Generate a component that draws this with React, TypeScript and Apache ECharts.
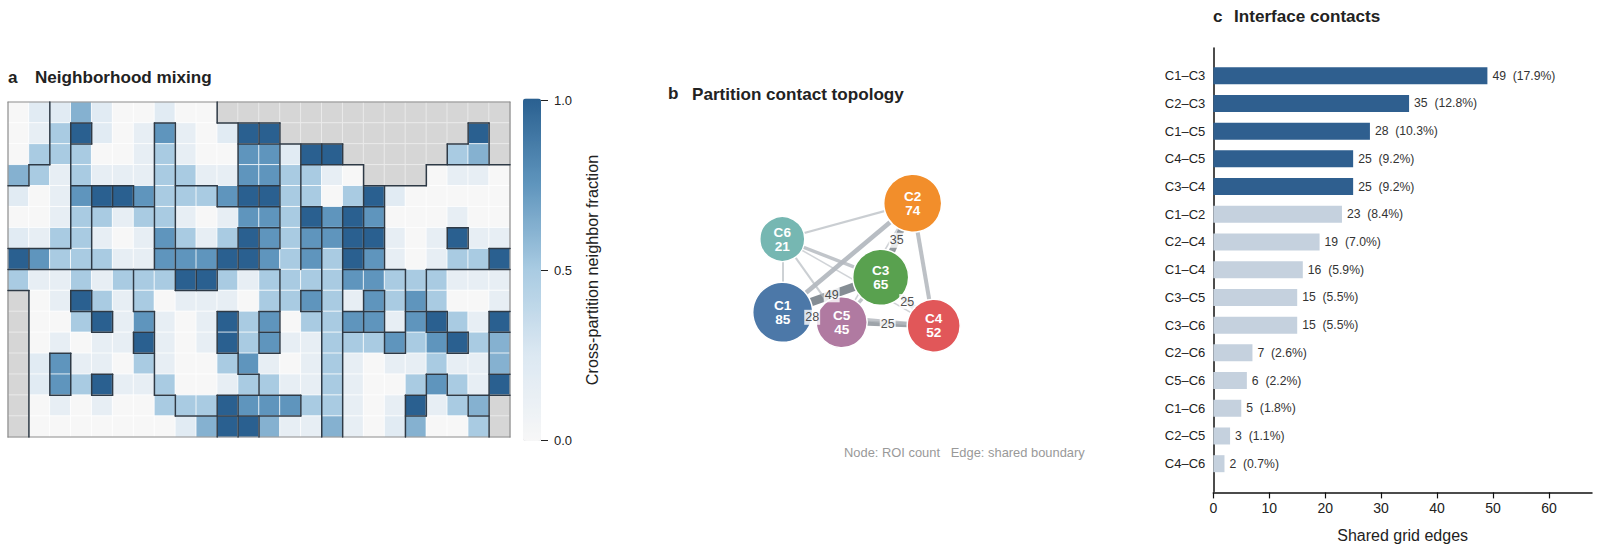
import React, { useEffect, useRef } from "react";
import * as echarts from "echarts";

const FONT = "'Liberation Sans', Arial, sans-serif";
const N = null;

// neighbour fraction per grid cell, null = outside the region
const row00 = [0, .2, .2, .62, .2, 0, 0, .2, 0, 0, N, N, N, N, N, N, N, N, N, N, N, N, N, N];
const row01 = [0, .15, .5, 1, .2, 0, .15, .75, .15, 0, .2, 1, 1, N, N, N, N, N, N, N, N, N, 1, N];
const row02 = [0, .5, .5, .5, 0, 0, .15, .5, .15, 0, 0, .75, .75, .2, 1, 1, N, N, N, N, N, .5, .62, N];
const row03 = [.62, .5, .15, .5, .15, .15, .15, .5, .5, .15, .15, .75, .75, .5, .5, .15, 0, N, N, N, 0, .15, .15, 0];
const row04 = [.2, 0, .15, .75, 1, 1, .75, .5, .5, .5, .75, 1, 1, .5, .5, 0, .5, 1, .2, 0, 0, 0, 0, 0];
const row05 = [0, 0, .15, .5, .5, .15, .5, .5, .15, 0, .15, .75, .75, .5, 1, .75, 1, .75, 0, 0, 0, .15, 0, 0];
const row06 = [.2, .15, .5, .5, .15, 0, .15, .75, .5, .15, .5, 1, .75, .5, .75, .75, 1, 1, .15, 0, .15, 1, .15, .15];
const row07 = [1, .75, .5, .5, .5, .15, .15, .75, .75, .75, 1, 1, .75, .5, .75, .5, 1, .75, .15, 0, .15, .5, .5, 1];
const row08 = [.5, .15, .15, .5, .15, .5, .5, .5, 1, 1, .5, .15, .5, .5, .5, .5, .75, .75, .5, .5, .5, .15, .15, .15];
const row09 = [N, 0, .15, 1, .5, .15, .5, 0, .15, .15, .15, 0, .5, .5, .75, .5, .15, .75, .5, .75, .5, 0, 0, .15];
const row10 = [N, 0, 0, .5, 1, .15, .75, .15, 0, .15, 1, .5, .75, 0, .5, .5, .75, .75, .15, .75, 1, .5, .15, 1];
const row11 = [N, 0, .15, 0, .15, .15, 1, .15, 0, .15, 1, .5, .75, .15, .15, .5, .5, .5, .75, .5, .75, 1, .5, .62];
const row12 = [N, .2, .75, .15, .15, 0, .5, .15, 0, 0, .5, .75, .15, 0, .15, .5, .15, 0, .15, .15, .5, .15, .15, .62];
const row13 = [N, .2, .75, .5, 1, .15, .15, .5, 0, 0, .15, .5, .5, .15, .15, .5, .15, 0, 0, .5, .75, .5, .15, 1];
const row14 = [N, 0, .15, 0, .15, 0, 0, .5, .5, .5, 1, .75, .75, .75, .5, .5, .15, 0, .15, 1, .15, .5, .62, N];
const row15 = [N, 0, 0, 0, 0, 0, 0, 0, .2, .62, 1, 1, .62, .15, .15, .62, .15, 0, .2, .62, 0, 0, .5, N];
const gridRows = [row00, row01, row02, row03, row04, row05, row06, row07, row08, row09, row10, row11, row12, row13, row14, row15];

// partition boundaries: [row line, first col, last col]
const boundaryH = [
  [1, 3, 4], [1, 7, 8], [1, 10, 13], [1, 22, 23],
  [2, 3, 4], [2, 11, 16], [2, 21, 22],
  [3, 1, 2], [3, 14, 17], [3, 20, 24],
  [4, 0, 1], [4, 3, 6], [4, 8, 10], [4, 11, 13], [4, 17, 20],
  [5, 4, 7], [5, 10, 13], [5, 14, 15], [5, 16, 18],
  [6, 11, 13], [6, 14, 18], [6, 21, 22],
  [7, 0, 3], [7, 7, 13], [7, 14, 15], [7, 16, 18], [7, 21, 22], [7, 23, 24],
  [8, 0, 13], [8, 16, 19], [8, 20, 24],
  [9, 0, 1], [9, 3, 4], [9, 8, 10], [9, 14, 15], [9, 17, 18],
  [10, 3, 5], [10, 6, 7], [10, 10, 11], [10, 12, 13], [10, 14, 15], [10, 16, 18], [10, 19, 21], [10, 23, 24],
  [11, 4, 5], [11, 6, 7], [11, 12, 13], [11, 16, 19], [11, 20, 22], [11, 23, 24],
  [12, 2, 3], [12, 6, 7], [12, 10, 11], [12, 12, 13], [12, 18, 19], [12, 21, 22],
  [13, 4, 5], [13, 11, 12], [13, 20, 21], [13, 23, 24],
  [14, 2, 3], [14, 4, 5], [14, 7, 8], [14, 10, 14], [14, 19, 20], [14, 21, 23], [14, 23, 24],
  [15, 8, 14], [15, 19, 20], [15, 22, 23],
];
// partition boundaries: [col line, first row, last row]
const boundaryV = [
  [1, 3, 4], [1, 7, 8], [1, 9, 16],
  [2, 0, 3], [2, 12, 14],
  [3, 1, 7], [3, 9, 10], [3, 12, 14],
  [4, 1, 2], [4, 4, 8], [4, 9, 11], [4, 13, 14],
  [5, 4, 5], [5, 10, 11], [5, 13, 14],
  [6, 4, 5], [6, 8, 10], [6, 11, 12],
  [7, 1, 8], [7, 10, 14],
  [8, 1, 9], [8, 14, 15],
  [9, 8, 9],
  [10, 0, 1], [10, 4, 5], [10, 7, 9], [10, 10, 12], [10, 14, 16],
  [11, 1, 5], [11, 6, 8], [11, 10, 12], [11, 12, 13], [11, 14, 16],
  [12, 1, 2], [12, 4, 5], [12, 6, 8], [12, 10, 12], [12, 13, 14], [12, 15, 16],
  [13, 1, 7], [13, 8, 12],
  [14, 2, 8], [14, 9, 10], [14, 14, 15],
  [15, 2, 3], [15, 5, 16],
  [16, 2, 3], [16, 5, 16],
  [17, 3, 8], [17, 9, 11],
  [18, 4, 8], [18, 9, 12],
  [19, 8, 12], [19, 14, 16],
  [20, 3, 4], [20, 8, 11], [20, 13, 15],
  [21, 2, 3], [21, 6, 7], [21, 10, 12], [21, 13, 14],
  [22, 1, 2], [22, 6, 7], [22, 11, 12], [22, 14, 15],
  [23, 1, 3], [23, 7, 8], [23, 10, 16],
];

const nodeNames = ["C1", "C2", "C3", "C4", "C5", "C6"];
const nodeCounts = [85, 74, 65, 52, 45, 21];
const nodeColors = ["#4c78a8", "#f28e2b", "#59a14f", "#e15759", "#b07aa1", "#76b7b2"];
const nodeX = [782.7, 912.7, 880.7, 933.7, 841.7, 782.3];
const nodeY = [312.3, 203.3, 277.3, 325.7, 322.3, 239];
const nodeSizes = [60, 58, 56, 53, 51, 45];

const pairs = ["C1–C3", "C2–C3", "C1–C5", "C4–C5", "C3–C4", "C1–C2", "C2–C4", "C1–C4", "C3–C5", "C3–C6", "C2–C6", "C5–C6", "C1–C6", "C2–C5", "C4–C6"];
const contacts = [49, 35, 28, 25, 25, 23, 19, 16, 15, 15, 7, 6, 5, 3, 2];
const shares = ["17.9", "12.8", "10.3", "9.2", "9.2", "8.4", "7.0", "5.9", "5.5", "5.5", "2.6", "2.2", "1.8", "1.1", "0.7"];
const xTicks = [0, 10, 20, 30, 40, 50, 60];
const colorStops = ["#f7f7f7", "#dce8f2", "#a9cbe2", "#5f95bd", "#2a6090"];

const heatCells: number[][] = [];
const maskCells: number[][] = [];
gridRows.forEach((row, r) =>
  row.forEach((v, c) => {
    if (v === null) maskCells.push([c, r, 1]);
    else heatCells.push([c, r, v]);
  })
);
const boundarySegments = [
  ...boundaryH.map(([r, a, b]) => [a, r, b, r]),
  ...boundaryV.map(([c, a, b]) => [c, a, c, b]),
];
const frameSegments = [[0, 0, 24, 0], [24, 0, 24, 16], [24, 16, 0, 16], [0, 16, 0, 0]];
const range = (n: number) => Array.from({ length: n }, (_, i) => String(i));

const segmentRenderer = (stroke: string, lineWidth: number) => (_: any, api: any) => {
  const p0 = api.coord([api.value(0), api.value(1)]);
  const p1 = api.coord([api.value(2), api.value(3)]);
  return {
    type: "line",
    shape: { x1: p0[0], y1: p0[1], x2: p1[0], y2: p1[1] },
    style: { stroke, lineWidth, lineCap: "round" },
  };
};

const titleText = (x: number, y: number, text: string) => ({
  type: "text",
  x,
  y,
  silent: true,
  style: { text, fill: "#222222", font: `bold 17.1px ${FONT}`, textVerticalAlign: "middle" },
});

export default function App() {
  const ref = useRef<HTMLDivElement>(null);
  useEffect(() => {
    document.body.style.margin = "0";
    const chart = echarts.init(ref.current!, undefined, { renderer: "svg" });
    const links = pairs.map((p, i) => {
      const [a, b] = p.split("–");
      const top = i < 5;
      const v = contacts[i];
      return {
        source: a,
        target: b,
        value: v,
        lineStyle: {
          width: 1.2 + v * 0.15,
          color: top ? "#7d868d" : "#b4b9bf",
          opacity: top ? 0.55 + v * 0.008 : 0.6 + v * 0.015,
          curveness: 0,
        },
      };
    });
    const edgeLabels = pairs.slice(0, 5).map((p, i) => {
      const [a, b] = p.split("–").map((n) => nodeNames.indexOf(n));
      return {
        value: [(nodeX[a] + nodeX[b]) / 2, (nodeY[a] + nodeY[b]) / 2],
        label: { formatter: String(contacts[i]) },
      };
    });
    chart.setOption({
      animation: false,
      backgroundColor: "#ffffff",
      textStyle: { fontFamily: FONT },
      tooltip: { show: false },
      grid: [
        { left: 8, top: 102, width: 502, height: 335 },
        { left: 8, top: 102, width: 502, height: 335 },
        { left: 523, top: 100, width: 18, height: 340 },
        { left: 700, top: 130, width: 330, height: 260 },
        { left: 1213.3, top: 48, width: 378.7, height: 443.4 },
      ],
      xAxis: [
        { gridIndex: 0, type: "category", data: range(24), show: false },
        { gridIndex: 1, type: "value", min: 0, max: 24, show: false },
        { gridIndex: 2, type: "value", min: 0, max: 1, show: false },
        { gridIndex: 3, type: "value", min: 700, max: 1030, show: false },
        {
          gridIndex: 4,
          type: "value",
          min: 0,
          max: 67.7,
          offset: 1,
          splitLine: { show: false },
          axisLine: { show: true, lineStyle: { color: "#111111", width: 1.5 } },
          axisTick: { show: true, length: 6, customValues: xTicks, lineStyle: { color: "#111111", width: 1.2 } },
          axisLabel: { customValues: xTicks, color: "#222222", fontSize: 14, margin: 9, fontFamily: FONT },
          name: "Shared grid edges",
          nameLocation: "middle",
          nameGap: 35,
          nameTextStyle: { color: "#222222", fontSize: 16, fontFamily: FONT },
        },
      ],
      yAxis: [
        { gridIndex: 0, type: "category", data: range(16), inverse: true, show: false },
        { gridIndex: 1, type: "value", min: 0, max: 16, inverse: true, show: false },
        {
          gridIndex: 2,
          type: "value",
          min: 0,
          max: 1,
          interval: 0.5,
          position: "right",
          splitLine: { show: false },
          axisLine: { show: false, onZero: false },
          axisTick: { show: true, length: 7, lineStyle: { color: "#222222", width: 1 } },
          axisLabel: { color: "#222222", fontSize: 13, margin: 13, fontFamily: FONT, formatter: (v: number) => v.toFixed(1) },
          name: "Cross-partition neighbor fraction",
          nameLocation: "middle",
          nameRotate: 90,
          nameGap: 43,
          nameTextStyle: { color: "#222222", fontSize: 16.2, fontFamily: FONT },
        },
        { gridIndex: 3, type: "value", min: 130, max: 390, inverse: true, show: false },
        {
          gridIndex: 4,
          type: "category",
          inverse: true,
          boundaryGap: false,
          data: ["", ...pairs, ""],
          splitLine: { show: false },
          axisLine: { show: true, lineStyle: { color: "#111111", width: 1.5 } },
          axisTick: { show: false },
          axisLabel: { color: "#222222", fontSize: 13, margin: 8, interval: 0, fontFamily: FONT },
        },
      ],
      visualMap: [
        {
          type: "continuous",
          seriesIndex: 0,
          min: 0,
          max: 1,
          calculable: false,
          realtime: false,
          hoverLink: false,
          padding: 0,
          left: 523,
          top: 98.5,
          itemWidth: 18,
          itemHeight: 342.5,
          showLabel: false,
          inRange: { color: colorStops },
        },
        {
          type: "continuous",
          seriesIndex: 1,
          show: false,
          min: 0,
          max: 1,
          inRange: { color: ["#d6d6d6", "#d6d6d6"] },
        },
      ],
      series: [
        {
          type: "heatmap",
          xAxisIndex: 0,
          yAxisIndex: 0,
          data: heatCells,
          silent: true,
          itemStyle: { borderColor: "#ffffff", borderWidth: 0.8 },
        },
        {
          type: "heatmap",
          xAxisIndex: 0,
          yAxisIndex: 0,
          data: maskCells,
          silent: true,
          itemStyle: { borderColor: "#eeeeee", borderWidth: 0.8 },
        },
        {
          type: "custom",
          xAxisIndex: 1,
          yAxisIndex: 1,
          data: frameSegments,
          silent: true,
          z: 5,
          renderItem: segmentRenderer("#8c8c8c", 1.2),
        },
        {
          type: "custom",
          xAxisIndex: 1,
          yAxisIndex: 1,
          data: boundarySegments,
          silent: true,
          z: 6,
          renderItem: segmentRenderer("#2e3a46", 1.5),
        },
        {
          type: "graph",
          coordinateSystem: "cartesian2d",
          xAxisIndex: 3,
          yAxisIndex: 3,
          silent: true,
          roam: false,
          z: 7,
          data: nodeNames.map((name, i) => ({
            name,
            value: [nodeX[i], nodeY[i]],
            symbolSize: nodeSizes[i],
            itemStyle: { color: nodeColors[i], borderColor: "#ffffff", borderWidth: 1.5 },
            label: {
              show: true,
              position: "inside",
              formatter: `${name}\n${nodeCounts[i]}`,
              color: "#ffffff",
              fontSize: 13.6,
              fontWeight: "bold",
              lineHeight: 14,
              fontFamily: FONT,
            },
          })),
          links,
          edgeSymbol: ["none", "none"],
        },
        {
          type: "scatter",
          xAxisIndex: 3,
          yAxisIndex: 3,
          silent: true,
          z: 9,
          symbolSize: 1,
          itemStyle: { color: "rgba(255,255,255,0)" },
          data: edgeLabels,
          label: {
            show: true,
            position: "inside",
            color: "#222222",
            fontSize: 12.5,
            fontFamily: FONT,
            backgroundColor: "#ffffff",
            padding: [1, 1],
          },
        },
        {
          type: "bar",
          xAxisIndex: 4,
          yAxisIndex: 4,
          silent: true,
          barWidth: 17,
          z: 8,
          data: [
            null,
            ...contacts.map((v, i) => ({
              value: v,
              itemStyle: { color: i < 5 ? "#2f5f8f" : "#c5d1de" },
              label: {
                show: true,
                position: "right",
                distance: 5,
                formatter: `${v}  (${shares[i]}%)`,
                color: "#333333",
                fontSize: 12.2,
                fontFamily: FONT,
              },
            })),
            null,
          ],
        },
      ],
      graphic: [
        titleText(8, 77, "a"),
        titleText(35, 77, "Neighborhood mixing"),
        titleText(668, 93, "b"),
        titleText(692, 94, "Partition contact topology"),
        titleText(1213, 16.5, "c"),
        titleText(1234, 16.5, "Interface contacts"),
        {
          type: "text",
          x: 844,
          y: 452,
          silent: true,
          style: { text: "Node: ROI count   Edge: shared boundary", fill: "#999999", font: `12.9px ${FONT}`, textVerticalAlign: "middle" },
        },
      ],
    });
    return () => chart.dispose();
  }, []);
  return <div ref={ref} style={{ position: "absolute", left: 0, top: 0, width: 1600, height: 552 }} />;
}
